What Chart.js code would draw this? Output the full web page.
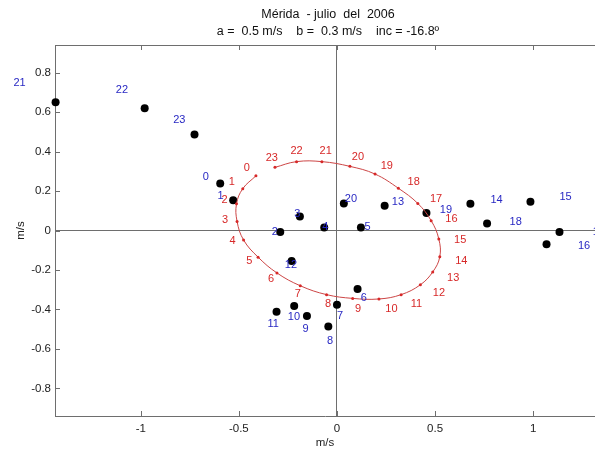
<!DOCTYPE html>
<html>
<head>
<meta charset="utf-8">
<script src="https://cdn.jsdelivr.net/npm/chart.js@4.4.0/dist/chart.umd.min.js"></script>
<style>
  html, body { margin: 0; padding: 0; background: #fff; }
</style>
</head>
<body>
<canvas id="mycanvas" width="595" height="450"></canvas>
<script>
// hour of day for each point
var hours = [0,1,2,3,4,5,6,7,8,9,10,11,12,13,14,15,16,17,18,19,20,21,22,23];

// observed hourly mean wind (black dots), m/s
var obsU = [-0.595,-0.529,-0.289,-0.189,-0.065,0.122,0.105,0.000,-0.044,-0.153,-0.218,-0.308,
            -0.231,0.243,0.680,0.986,1.068,1.134,0.765,0.456,0.035,-1.434,-0.980,-0.726];
var obsV = [0.238,0.153,-0.008,0.071,0.015,0.015,-0.297,-0.376,-0.487,-0.433,-0.383,-0.412,
            -0.154,0.126,0.135,0.146,-0.070,-0.007,0.036,0.089,0.137,0.650,0.619,0.486];

// fitted ellipse, hourly points (red)
var fitU = [-0.413,-0.480,-0.512,-0.509,-0.476,-0.402,-0.306,-0.187,-0.053,0.080,0.214,0.327,
            0.425,0.488,0.524,0.519,0.480,0.412,0.313,0.194,0.066,-0.077,-0.206,-0.316];
var fitV = [0.277,0.212,0.135,0.046,-0.048,-0.135,-0.215,-0.280,-0.325,-0.344,-0.347,-0.325,
            -0.275,-0.210,-0.133,-0.043,0.050,0.137,0.214,0.286,0.325,0.349,0.349,0.320];

var xTicks = [-1, -0.5, 0, 0.5, 1];
var xTickLabels = ['-1', '-0.5', '0', '0.5', '1'];
var yTicks = [-0.8, -0.6, -0.4, -0.2, 0, 0.2, 0.4, 0.6, 0.8];
var yTickLabels = ['-0.8', '-0.6', '-0.4', '-0.2', '0', '0.2', '0.4', '0.6', '0.8'];

var titleLines = ['M\u00e9rida  - julio  del  2006', 'a =  0.5 m/s    b =  0.3 m/s    inc = -16.8\u00ba'];

var FONT = '"Liberation Sans", Arial, Helvetica, sans-serif';
var axisGray = '#6e6e6e';
var red = 'rgb(215,40,40)';
var blue = 'rgb(40,40,195)';

function toPoints(us, vs) {
  var pts = [];
  for (var i in us) {
    pts.push({x: us[i], y: vs[i]});
  }
  return pts;
}

var extras = {
  id: 'extras',
  beforeDraw: function(chart) {
    var ctx = chart.ctx;
    ctx.save();
    ctx.fillStyle = '#fff';
    ctx.fillRect(0, 0, chart.width, chart.height);
    ctx.restore();
  },
  afterDatasetsDraw: function(chart) {
    var ctx = chart.ctx;
    var xs = chart.scales.x, ys = chart.scales.y;
    ctx.save();
    ctx.font = '11px ' + FONT;
    ctx.textAlign = 'left';
    ctx.textBaseline = 'middle';
    // hour labels sit a bit further out than their point
    var sets = [[fitU, fitV, red], [obsU, obsV, blue]];
    sets.forEach(function(s) {
      ctx.fillStyle = s[2];
      for (var i in hours) {
        ctx.fillText(String(hours[i]), xs.getPixelForValue(s[0][i] * 1.15), ys.getPixelForValue(s[1][i] * 1.15));
      }
    });
    ctx.restore();
  },
  afterDraw: function(chart) {
    var ctx = chart.ctx;
    var a = chart.chartArea;
    var xs = chart.scales.x, ys = chart.scales.y;
    ctx.save();
    ctx.strokeStyle = axisGray;
    ctx.lineWidth = 1;
    ctx.beginPath();
    ctx.moveTo(a.left, a.top + 0.5);
    ctx.lineTo(a.right, a.top + 0.5);
    xTicks.forEach(function(v) {
      var px = Math.round(xs.getPixelForValue(v)) + 0.5;
      ctx.moveTo(px, a.bottom);
      ctx.lineTo(px, a.bottom - 5);
      ctx.moveTo(px, a.top);
      ctx.lineTo(px, a.top + 5);
    });
    yTicks.forEach(function(v) {
      var py = Math.round(ys.getPixelForValue(v)) + 0.5;
      ctx.moveTo(a.left, py);
      ctx.lineTo(a.left + 5, py);
    });
    ctx.stroke();

    ctx.fillStyle = '#111';
    ctx.font = '12.5px ' + FONT;
    ctx.textAlign = 'center';
    ctx.textBaseline = 'middle';
    ctx.fillText(titleLines[0], 328, 15);
    ctx.fillText(titleLines[1], 328, 32);
    ctx.restore();
  }
};

var chartdata = {
  datasets: [
    {
      label: 'ajuste',
      data: toPoints(fitU, fitV),
      showLine: true,
      tension: 0.4,
      borderColor: 'rgb(205,70,70)',
      borderWidth: 1,
      pointRadius: 1.5,
      pointBackgroundColor: red,
      pointBorderWidth: 0,
      fill: false
    },
    {
      label: 'observado',
      data: toPoints(obsU, obsV),
      pointRadius: 4,
      pointBackgroundColor: '#000',
      pointBorderColor: '#000',
      pointBorderWidth: 0,
      clip: false
    }
  ]
};

var ctx = document.getElementById('mycanvas');

var chart = new Chart(ctx, {
  type: 'scatter',
  data: chartdata,
  plugins: [extras],
  options: {
    responsive: false,
    animation: false,
    devicePixelRatio: 1,
    layout: { autoPadding: false, padding: { top: 45, left: 0, right: 0, bottom: 0 } },
    plugins: {
      legend: { display: false },
      tooltip: { enabled: false },
      title: { display: false }
    },
    scales: {
      x: {
        type: 'linear',
        min: -1.437,
        max: 1.315,
        afterBuildTicks: function(scale) {
          scale.ticks = xTicks.map(function(v) { return {value: v}; });
        },
        afterFit: function(scale) {
          scale.height = 34;
          scale.paddingLeft = 0;
          scale.paddingRight = 0;
        },
        ticks: {
          padding: 6,
          color: '#222',
          font: { family: FONT, size: 11.5 },
          callback: function(v, i) { return xTickLabels[i]; }
        },
        grid: {
          drawTicks: false,
          color: function(c) { return c.tick && c.tick.value === 0 ? axisGray : 'rgba(0,0,0,0)'; }
        },
        border: { color: axisGray },
        title: {
          display: true,
          text: 'm/s',
          color: '#222',
          font: { family: FONT, size: 11.5 },
          padding: { top: 0, bottom: 0 }
        }
      },
      y: {
        type: 'linear',
        min: -0.94,
        max: 0.94,
        afterBuildTicks: function(scale) {
          scale.ticks = yTicks.map(function(v) { return {value: v}; });
        },
        afterFit: function(scale) {
          scale.width = 55;
          scale.paddingTop = 0;
          scale.paddingBottom = 0;
        },
        ticks: {
          padding: 4,
          color: '#222',
          font: { family: FONT, size: 11.5 },
          callback: function(v, i) { return yTickLabels[i]; }
        },
        grid: {
          drawTicks: false,
          color: function(c) { return c.tick && c.tick.value === 0 ? axisGray : 'rgba(0,0,0,0)'; }
        },
        border: { color: axisGray },
        title: {
          display: true,
          text: 'm/s',
          color: '#222',
          font: { family: FONT, size: 11.5 },
          padding: { top: 14, bottom: 0 }
        }
      }
    }
  }
});
</script>
</body>
</html>
